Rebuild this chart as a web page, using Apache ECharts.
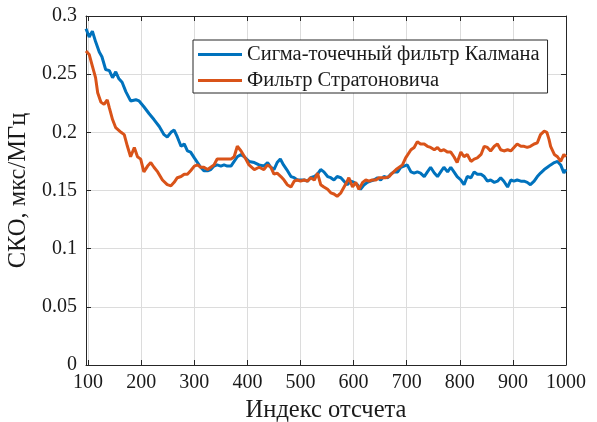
<!DOCTYPE html>
<html>
<head>
<meta charset="utf-8">
<script src="https://cdn.jsdelivr.net/npm/echarts@6/dist/echarts.min.js"></script>
<style>
html,body{margin:0;padding:0;background:#fff;}
#chart{width:597px;height:422px;}
</style>
</head>
<body>
<div id="chart"></div>
<script>
const seriesNames = ['Сигма-точечный фильтр Калмана', 'Фильтр Стратоновича'];
const xTicks = [100, 200, 300, 400, 500, 600, 700, 800, 900, 1000];

const blueX = [96,102,108,114,121,126,133,140,146,152,158,164,171,180,190,196,205,215,224,234,243,249,256,262,268,275,281,287,293,300,306,312,318,325,331,337,343,350,356,362,369,375,381,388,394,403,413,422,431,438,444,450,456,462,468,474,482,488,494,500,507,513,519,526,532,538,544,551,557,563,569,576,582,588,595,601,607,613,620,626,632,638,645,651,657,664,670,676,683,689,695,701,708,714,720,726,733,739,745,752,758,764,770,777,783,789,795,802,808,814,821,827,833,840,846,852,858,865,871,877,883,890,896,902,908,915,921,927,933,940,946,952,959,965,971,978,984,990,996,1000];
const blueY = [0.289,0.282,0.287,0.278,0.269,0.265,0.254,0.253,0.247,0.252,0.246,0.243,0.235,0.227,0.228,0.227,0.222,0.216,0.211,0.205,0.198,0.196,0.200,0.202,0.196,0.188,0.190,0.184,0.183,0.178,0.174,0.170,0.167,0.167,0.168,0.171,0.172,0.171,0.172,0.171,0.171,0.175,0.179,0.181,0.179,0.175,0.174,0.172,0.171,0.174,0.170,0.168,0.174,0.177,0.172,0.168,0.162,0.161,0.159,0.159,0.159,0.158,0.161,0.162,0.164,0.168,0.166,0.162,0.161,0.159,0.162,0.161,0.158,0.155,0.158,0.157,0.155,0.151,0.155,0.157,0.158,0.159,0.161,0.159,0.162,0.161,0.164,0.166,0.166,0.170,0.171,0.172,0.166,0.165,0.166,0.165,0.162,0.166,0.170,0.165,0.162,0.166,0.170,0.166,0.170,0.166,0.162,0.159,0.155,0.162,0.161,0.166,0.164,0.164,0.162,0.158,0.159,0.157,0.158,0.161,0.158,0.153,0.159,0.158,0.159,0.158,0.158,0.157,0.155,0.158,0.162,0.165,0.168,0.170,0.172,0.174,0.175,0.172,0.165,0.168];

const orangeX = [96,102,108,114,118,124,130,136,140,146,152,162,168,174,180,187,193,199,205,212,218,224,231,240,249,256,262,268,275,281,287,293,300,306,312,318,325,331,337,343,350,356,362,369,375,381,388,397,403,413,422,431,438,444,450,456,463,469,475,482,488,494,500,507,513,519,526,532,538,544,551,557,563,569,576,582,588,591,598,604,610,617,623,629,635,642,648,654,661,667,673,680,686,692,698,708,714,720,726,733,739,745,752,758,764,770,777,783,789,795,802,808,814,821,827,833,840,846,852,858,865,871,877,883,890,896,902,908,915,921,927,933,940,946,952,959,964,968,971,978,984,990,996,1000];
const orangeY = [0.270,0.267,0.257,0.247,0.234,0.226,0.224,0.228,0.221,0.211,0.204,0.200,0.198,0.188,0.179,0.187,0.179,0.177,0.166,0.171,0.174,0.170,0.166,0.159,0.155,0.154,0.157,0.161,0.162,0.164,0.164,0.167,0.171,0.172,0.170,0.170,0.168,0.170,0.172,0.177,0.177,0.177,0.177,0.177,0.179,0.188,0.184,0.177,0.172,0.168,0.170,0.168,0.172,0.170,0.164,0.165,0.162,0.159,0.155,0.153,0.158,0.159,0.158,0.159,0.158,0.161,0.159,0.165,0.155,0.153,0.151,0.148,0.147,0.145,0.148,0.153,0.158,0.161,0.153,0.157,0.151,0.157,0.159,0.158,0.159,0.159,0.161,0.161,0.161,0.162,0.165,0.168,0.170,0.172,0.178,0.185,0.187,0.192,0.190,0.190,0.188,0.187,0.185,0.187,0.184,0.185,0.183,0.183,0.179,0.174,0.183,0.179,0.181,0.175,0.177,0.178,0.181,0.188,0.187,0.184,0.188,0.190,0.185,0.184,0.185,0.184,0.187,0.190,0.188,0.188,0.187,0.188,0.190,0.191,0.198,0.201,0.200,0.194,0.188,0.181,0.179,0.175,0.181,0.179];

const pair = (xs, ys) => xs.map((x, i) => [x, ys[i]]);
const FONT = 'Liberation Serif';
const axisColor = '#262626';
const textColor = '#1a1a1a';

const chart = echarts.init(document.getElementById('chart'), null, {renderer: 'canvas'});
const xCommon = {
  type: 'value', min: 96, max: 1000,
  axisLine: {show: true, onZero: false, lineStyle: {color: axisColor, width: 1}},
  axisTick: {show: true, inside: true, length: 5, customValues: xTicks, lineStyle: {color: axisColor}}
};
const yCommon = {
  type: 'value', min: 0, max: 0.3, interval: 0.05,
  axisLine: {show: true, onZero: false, lineStyle: {color: axisColor, width: 1}},
  axisTick: {show: true, inside: true, length: 5, lineStyle: {color: axisColor}}
};
chart.setOption({
  animation: false,
  backgroundColor: '#fff',
  grid: {left: 86, right: 31, top: 16, bottom: 57, containLabel: false, outerBoundsMode: 'none'},
  xAxis: [
    Object.assign({}, xCommon, {
      position: 'bottom',
      name: 'Индекс отсчета', nameLocation: 'middle', nameGap: 31,
      nameTextStyle: {fontFamily: FONT, fontSize: 24.5, color: textColor},
      axisLabel: {customValues: xTicks, formatter: v => String(v), fontFamily: FONT, fontSize: 20, color: textColor, margin: 8},
      splitLine: {show: true, lineStyle: {color: '#dcdcdc', width: 1}}
    }),
    Object.assign({}, xCommon, {
      position: 'top', axisLabel: {show: false}, splitLine: {show: false}
    })
  ],
  yAxis: [
    Object.assign({}, yCommon, {
      position: 'left',
      name: 'СКО, мкс/МГц', nameLocation: 'middle', nameGap: 51,
      nameTextStyle: {fontFamily: FONT, fontSize: 24.5, color: textColor},
      axisLabel: {formatter: v => String(v), fontFamily: FONT, fontSize: 20, color: textColor, margin: 9},
      splitLine: {show: true, lineStyle: {color: '#dcdcdc', width: 1}}
    }),
    Object.assign({}, yCommon, {
      position: 'right', axisLabel: {show: false}, splitLine: {show: false}
    })
  ],
  legend: {
    orient: 'vertical', left: 193, top: 40,
    backgroundColor: '#fff', borderColor: axisColor, borderWidth: 1,
    padding: [4, 8, 2, 5], itemWidth: 44, itemHeight: 3, itemGap: 5,
    icon: 'rect',
    textStyle: {fontFamily: FONT, fontSize: 20.5, color: textColor},
    data: seriesNames
  },
  series: [
    {name: seriesNames[0], type: 'line', data: pair(blueX, blueY), symbol: 'none',
     lineStyle: {color: '#0072BD', width: 3}, itemStyle: {color: '#0072BD'}, z: 3},
    {name: seriesNames[1], type: 'line', data: pair(orangeX, orangeY), symbol: 'none',
     lineStyle: {color: '#D95319', width: 3}, itemStyle: {color: '#D95319'}, z: 4}
  ]
});
</script>
</body>
</html>
